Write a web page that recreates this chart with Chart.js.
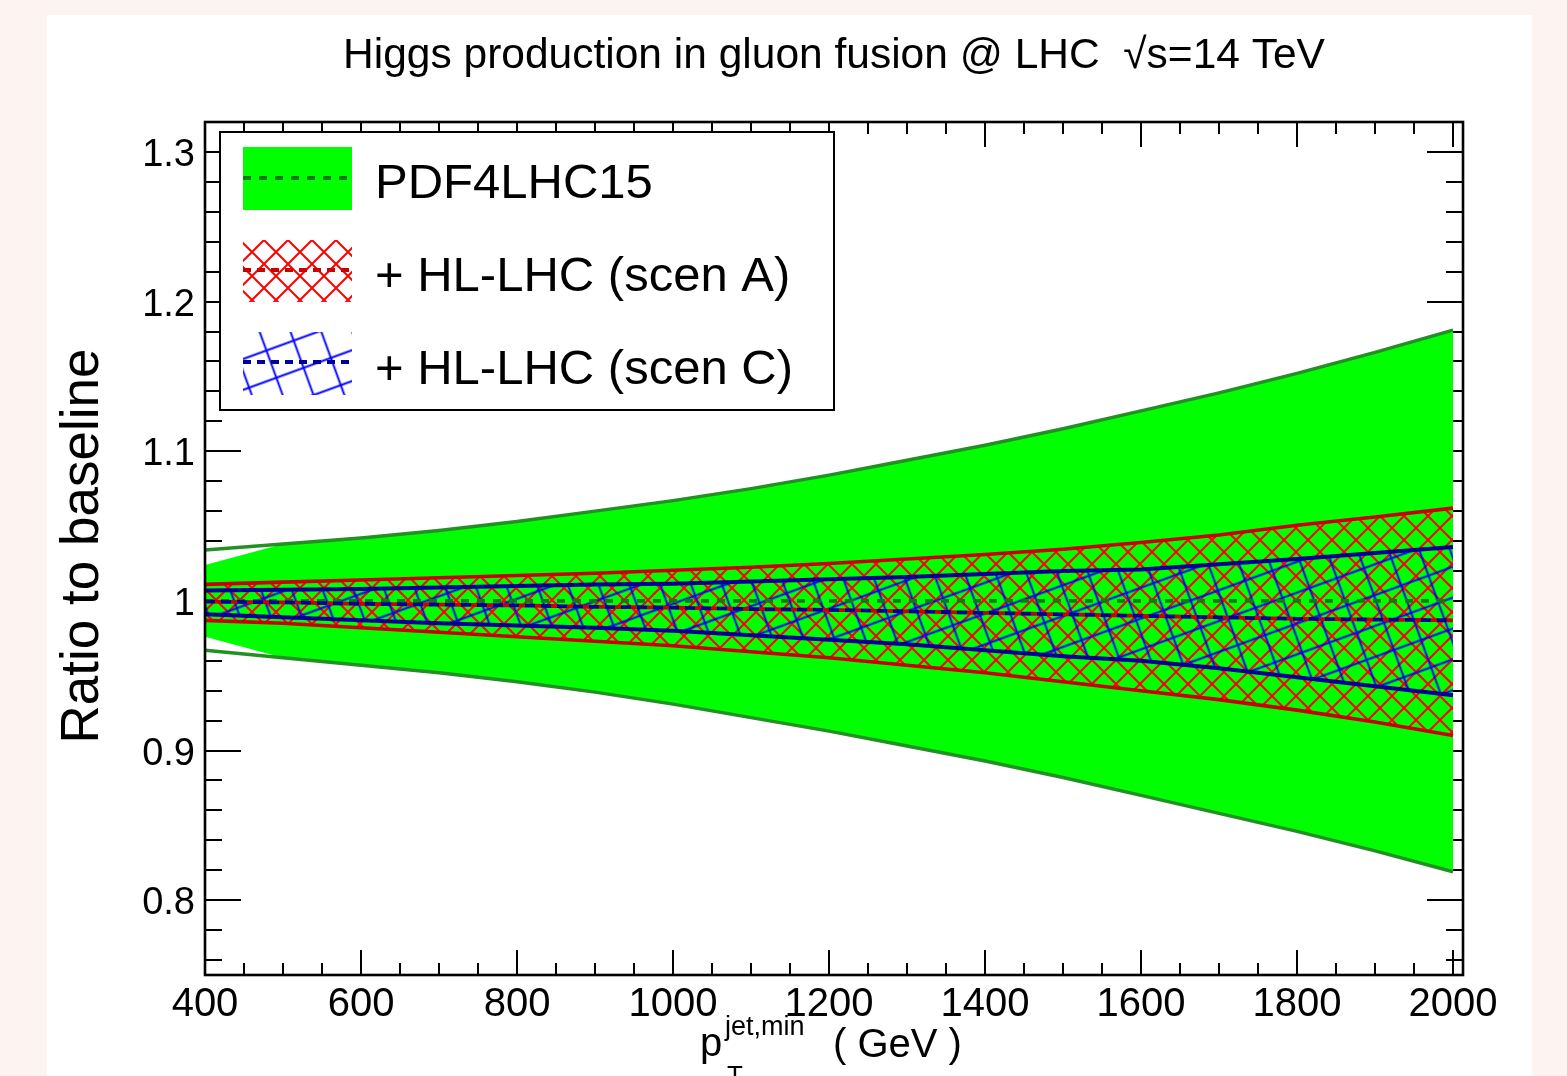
<!DOCTYPE html>
<html><head><meta charset="utf-8">
<script src="https://cdn.jsdelivr.net/npm/chart.js@4"></script>
<style>html,body{margin:0;padding:0;background:#fdf4f2;}canvas{display:block;}</style>
</head><body>
<canvas id="c" width="1567" height="1076" style="width:1567px;height:1076px"></canvas>
<script>
// ---------- data ----------
const ptGeV = [400,500,600,700,800,900,1000,1100,1200,1300,1400,1500,1600,1700,1800,1900,2000];

// PDF4LHC15 band (outline) and the filled area (fill starts narrower at the first point)
const pdfUp   = [1.034,1.038,1.042,1.047,1.053,1.060,1.067,1.075,1.084,1.094,1.104,1.115,1.127,1.139,1.152,1.166,1.181];
const pdfLo   = [0.967,0.962,0.957,0.952,0.946,0.939,0.931,0.922,0.913,0.903,0.893,0.882,0.870,0.858,0.846,0.833,0.819];
const pdfFillUp = [1.024,1.038,1.042,1.047,1.053,1.060,1.067,1.075,1.084,1.094,1.104,1.115,1.127,1.139,1.152,1.166,1.181];
const pdfFillLo = [0.976,0.962,0.957,0.952,0.946,0.939,0.931,0.922,0.913,0.903,0.893,0.882,0.870,0.858,0.846,0.833,0.819];
const pdfCentral = [1.000,1.000,1.000,1.000,1.000,1.000,1.000,1.000,1.000,1.000,1.000,1.000,1.000,1.000,1.000,1.000,1.000];

// + HL-LHC (scen A)
const scenAUp = [1.011,1.0125,1.014,1.0155,1.017,1.0185,1.0205,1.0225,1.025,1.028,1.031,1.0345,1.039,1.044,1.0505,1.056,1.062];
const scenALo = [0.987,0.985,0.982,0.979,0.976,0.973,0.970,0.966,0.962,0.957,0.952,0.946,0.940,0.934,0.927,0.919,0.910];
const scenACentral = [0.9995,0.999,0.998,0.9975,0.997,0.996,0.9955,0.9945,0.994,0.993,0.992,0.991,0.990,0.989,0.988,0.9875,0.987];

// + HL-LHC (scen C)
const scenCUp = [1.007,1.0075,1.008,1.009,1.010,1.011,1.0115,1.013,1.0145,1.016,1.018,1.020,1.021,1.0245,1.028,1.032,1.036];
const scenCLo = [0.991,0.989,0.987,0.985,0.9835,0.982,0.980,0.977,0.974,0.971,0.967,0.963,0.960,0.955,0.949,0.943,0.937];
const scenCCentral = [0.9995,0.999,0.998,0.9975,0.997,0.996,0.9955,0.9945,0.994,0.993,0.992,0.991,0.990,0.989,0.988,0.9875,0.987];

// ticks
const xTickValues = [400,600,800,1000,1200,1400,1600,1800,2000];
const xTickLabels = ['400','600','800','1000','1200','1400','1600','1800','2000'];
const yTickValues = [0.8,0.9,1.0,1.1,1.2,1.3];
const yTickLabels = ['0.8','0.9','1','1.1','1.2','1.3'];

const titleText = 'Higgs production in gluon fusion @ LHC  \u221As=14 TeV';
const yTitle = 'Ratio to baseline';
const legendLabels = ['PDF4LHC15', '+ HL-LHC (scen A)', '+ HL-LHC (scen C)'];

// ---------- styling ----------
const FONT = '"Liberation Sans", Arial, Helvetica, sans-serif';
const GREEN_FILL = '#00ff00', GREEN_LINE = '#239023', GREEN_DASH = '#107a10';
const RED_LINE = '#cc0000', RED_HATCH = '#ff0000';
const BLUE_LINE = '#000099', BLUE_HATCH = '#0000ff';

const canvas = document.getElementById('c');
const mainCtx = canvas.getContext('2d');

function makeRedHatch(){
  const s = 24;
  const t = document.createElement('canvas'); t.width = s; t.height = s;
  const g = t.getContext('2d');
  g.strokeStyle = RED_HATCH; g.lineWidth = 2.0;
  g.beginPath();
  for (const k of [-1,0,1]) { g.moveTo(k*s, 0); g.lineTo(k*s + s, s); }
  for (const k of [0,1,2]) { g.moveTo(k*s, 0); g.lineTo(k*s - s, s); }
  g.stroke();
  return mainCtx.createPattern(t, 'repeat');
}
function makeBlueHatch(){
  const s = 29;
  const t = document.createElement('canvas'); t.width = s; t.height = s;
  const g = t.getContext('2d');
  g.strokeStyle = BLUE_HATCH; g.lineWidth = 1.9;
  g.beginPath();
  g.moveTo(0, s/2); g.lineTo(s, s/2);
  g.moveTo(s/2, 0); g.lineTo(s/2, s);
  g.stroke();
  const p = mainCtx.createPattern(t, 'repeat');
  p.setTransform(new DOMMatrix().rotate(-20));
  return p;
}
const redHatch = makeRedHatch();
const blueHatch = makeBlueHatch();

function xy(ys){ return ptGeV.map((x,i)=>({x:x, y:ys[i]})); }
const NONE = 'rgba(0,0,0,0)';

const datasets = [
  {data: xy(pdfFillUp), fill:'+1', backgroundColor:GREEN_FILL, borderColor:NONE, borderWidth:0, order:100},
  {data: xy(pdfFillLo), fill:false, borderColor:NONE, borderWidth:0, order:100},
  {data: xy(pdfUp), fill:false, borderColor:GREEN_LINE, borderWidth:3.4, order:90},
  {data: xy(pdfLo), fill:false, borderColor:GREEN_LINE, borderWidth:3.4, order:90},
  {data: xy(scenAUp), fill:'+1', backgroundColor:redHatch, borderColor:NONE, borderWidth:0, order:80},
  {data: xy(scenALo), fill:false, borderColor:NONE, borderWidth:0, order:80},
  {data: xy(scenAUp), fill:false, borderColor:RED_LINE, borderWidth:3.6, order:70},
  {data: xy(scenALo), fill:false, borderColor:RED_LINE, borderWidth:3.6, order:70},
  {data: xy(scenCUp), fill:'+1', backgroundColor:blueHatch, borderColor:NONE, borderWidth:0, order:60},
  {data: xy(scenCLo), fill:false, borderColor:NONE, borderWidth:0, order:60},
  {data: xy(scenCUp), fill:false, borderColor:BLUE_LINE, borderWidth:4, order:50},
  {data: xy(scenCLo), fill:false, borderColor:BLUE_LINE, borderWidth:4, order:50},
  {data: xy(pdfCentral), fill:false, borderColor:GREEN_DASH, borderWidth:3.8, borderDash:[8,8], order:40},
  {data: xy(scenACentral), fill:false, borderColor:RED_LINE, borderWidth:3.8, borderDash:[6,10], borderDashOffset:6, order:30},
  {data: xy(scenCCentral), fill:false, borderColor:BLUE_LINE, borderWidth:3.8, borderDash:[10,6], order:20},
];

const rootPlugin = {
  id: 'rootStyle',
  beforeDraw(chart){
    const c = chart.ctx;
    c.save();
    c.fillStyle = '#fdf4f2'; c.fillRect(0,0,chart.width,chart.height);
    c.fillStyle = '#ffffff'; c.fillRect(47,15,1485,chart.height-15);
    c.restore();
  },
  beforeDatasetsDraw(chart){
    const c = chart.ctx, a = chart.chartArea, xs = chart.scales.x, ys = chart.scales.y;
    c.save();
    c.strokeStyle = '#000'; c.lineWidth = 2;
    c.beginPath();
    for (let v = 400; v <= 2000; v += 50) {
      const px = Math.round(xs.getPixelForValue(v));
      const major = (v - 400) % 200 === 0;
      const L = major ? 25 : 12;
      c.moveTo(px, a.bottom); c.lineTo(px, a.bottom - L);
      c.moveTo(px, a.top); c.lineTo(px, a.top + L);
    }
    for (let k = 38; k < 66; k++) {
      const py = Math.round(ys.getPixelForValue(k*0.02));
      const major = k % 5 === 0;
      const L = major ? 36 : 17;
      c.moveTo(a.left, py); c.lineTo(a.left + L, py);
      c.moveTo(a.right, py); c.lineTo(a.right - L, py);
    }
    c.stroke();
    c.restore();
  },
  afterDatasetsDraw(chart){
    const c = chart.ctx, a = chart.chartArea;
    c.save();
    c.strokeStyle = '#000'; c.lineWidth = 2.6;
    c.strokeRect(a.left, a.top, a.right - a.left, a.bottom - a.top);
    c.restore();
  },
  afterDraw(chart){
    const c = chart.ctx, a = chart.chartArea, xs = chart.scales.x, ys = chart.scales.y;
    c.save();
    c.fillStyle = '#000';
    // tick labels
    c.font = '38px ' + FONT; c.textAlign = 'right'; c.textBaseline = 'alphabetic';
    yTickValues.forEach((v,i)=>{ c.fillText(yTickLabels[i], 195, ys.getPixelForValue(v) + 14); });
    c.font = '40px ' + FONT; c.textAlign = 'center';
    xTickValues.forEach((v,i)=>{ c.fillText(xTickLabels[i], xs.getPixelForValue(v), 1016); });
    // title
    c.font = '42.5px ' + FONT; c.textAlign = 'center';
    c.fillText(titleText, 834, 68);
    // y title
    c.save();
    c.translate(98, 546); c.rotate(-Math.PI/2);
    c.font = '53px ' + FONT; c.textAlign = 'center';
    c.fillText(yTitle, 0, 0);
    c.restore();
    // x title
    c.textAlign = 'left';
    c.font = '40px ' + FONT; c.fillText('p', 700, 1056);
    c.font = '27px ' + FONT; c.fillText('jet,min', 725, 1035);
    c.font = '26px ' + FONT; c.fillText('T', 727, 1084);
    c.font = '40px ' + FONT; c.fillText('( GeV )', 833, 1057);

    // legend
    const lx = 220, ly = 132, lw = 614, lh = 278;
    c.fillStyle = '#fff'; c.fillRect(lx, ly, lw, lh);
    c.strokeStyle = '#000'; c.lineWidth = 2; c.strokeRect(lx, ly, lw, lh);
    const sx = 243, sw = 109;
    // entry 1
    c.fillStyle = GREEN_FILL; c.fillRect(sx, 147, sw, 63);
    c.setLineDash([8,8]); c.lineWidth = 3.8; c.strokeStyle = GREEN_DASH;
    c.beginPath(); c.moveTo(sx, 178); c.lineTo(sx+sw, 178); c.stroke();
    // entry 2
    c.setLineDash([]);
    c.fillStyle = redHatch; c.fillRect(sx, 240, sw, 62);
    c.setLineDash([8,6]); c.lineWidth = 3.8; c.strokeStyle = RED_LINE;
    c.beginPath(); c.moveTo(sx, 270); c.lineTo(sx+sw, 270); c.stroke();
    // entry 3
    c.setLineDash([]);
    c.fillStyle = blueHatch; c.fillRect(sx, 332, sw, 63);
    c.setLineDash([8,6]); c.lineWidth = 3.8; c.strokeStyle = BLUE_LINE;
    c.beginPath(); c.moveTo(sx, 362); c.lineTo(sx+sw, 362); c.stroke();
    c.setLineDash([]);
    c.fillStyle = '#000'; c.font = '49px ' + FONT; c.textAlign = 'left';
    c.fillText(legendLabels[0], 375, 198);
    c.fillText(legendLabels[1], 375, 291);
    c.fillText(legendLabels[2], 375, 384);
    c.restore();
  }
};

new Chart(mainCtx, {
  type: 'line',
  data: { datasets: datasets },
  options: {
    responsive: false, animation: false, devicePixelRatio: 1,
    layout: { padding: { left: 205, right: 104, top: 122, bottom: 101 } },
    scales: {
      x: { type: 'linear', min: 400, max: 2012.8, display: false },
      y: { type: 'linear', min: 0.75, max: 1.32, display: false }
    },
    elements: { point: { radius: 0 }, line: { tension: 0 } },
    plugins: { legend: { display: false }, tooltip: { enabled: false }, title: { display: false } }
  },
  plugins: [rootPlugin]
});
</script>
</body></html>
